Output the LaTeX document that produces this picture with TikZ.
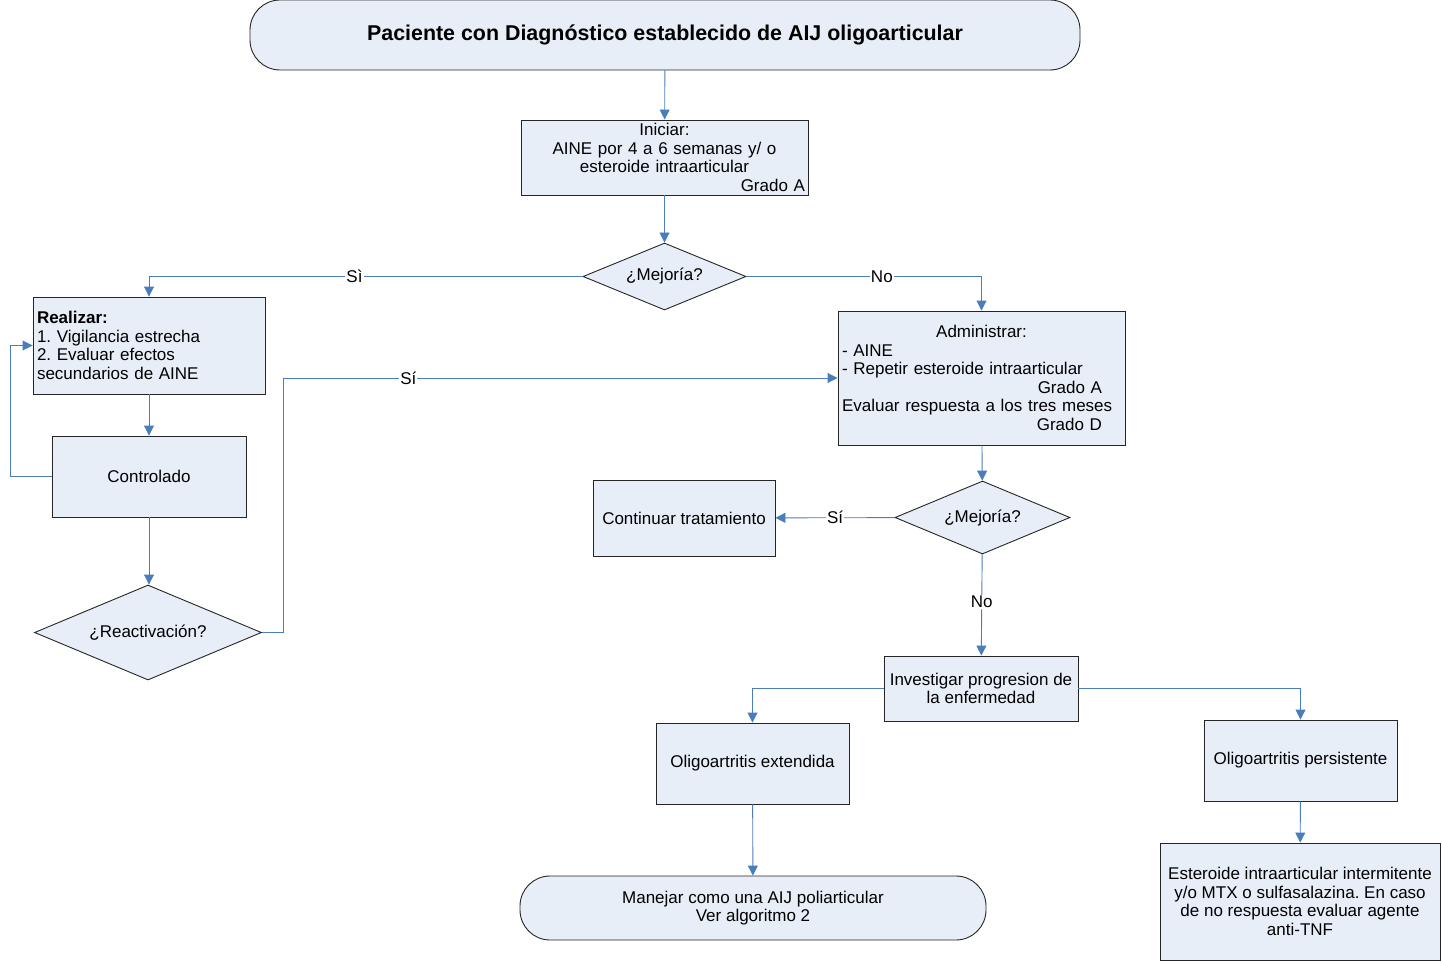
\documentclass[tikz,border=0pt]{standalone}
\usepackage{fontspec}
\setmainfont{Liberation Sans}
\usepackage{tikz}
\usetikzlibrary{shapes.geometric, arrows.meta, positioning}
\frenchspacing

\definecolor{boxfill}{RGB}{232,238,247}
\definecolor{flowblue}{RGB}{74,126,187}

\tikzset{
  box/.style={draw=black!85, fill=boxfill, line width=0.9pt, inner sep=0pt, font=\fontsize{17}{18.6}\selectfont},
  terminal/.style={box, rounded corners=30pt},
  decision/.style={box, diamond, aspect=2.4},
  flow/.style={draw=flowblue, line width=0.9pt, -{Triangle[length=10pt,width=10pt]}},
  lbl/.style={fill=white, inner sep=1pt, font=\fontsize{17}{18.6}\selectfont},
}

\begin{document}
\begin{tikzpicture}[x=1pt, y=-1pt]
    \useasboundingbox (0,0) rectangle (1442,963);
    % Start
    \node[terminal, minimum width=830, minimum height=70, font=\bfseries\fontsize{21.4}{24}\selectfont] (start) at (665,35) {Paciente con Diagnóstico establecido de AIJ oligoarticular};
    \node[box, minimum width=287, minimum height=75, text width=281, align=center] (iniciar) at (664.5,157.5) {Iniciar:\\ AINE por 4 a 6 semanas y/ o\\ esteroide intraarticular\\ \hfill Grado A};
    \node[decision, minimum width=163, minimum height=67] (mejora) at (664.5,276.5) {¿Mejoría?};
    % Left branch
    \node[box, minimum width=232, minimum height=97, text width=224, align=left] (realizar) at (149,345.5) {\textbf{Realizar:}\\ 1. Vigilancia estrecha\\ 2. Evaluar efectos\\ secundarios de AINE};
    \node[box, minimum width=194, minimum height=81] (ctrl) at (149,476.5) {Controlado};
    \node[decision, minimum width=227, minimum height=95] (react) at (148,632.5) {¿Reactivación?};
    \coordinate (lbend) at (10,476.5);
    \coordinate (rbend) at (283,632.5);
    % Right branch
    \node[box, minimum width=287, minimum height=134, text width=279, align=left] (admin) at (981.5,378) {\hfill Administrar:\hfill\null\\ - AINE\\ - Repetir esteroide intraarticular\\ \hfill Grado A\hspace{19pt}\null\\ Evaluar respuesta a los tres meses\\ \hfill Grado D\hspace{19pt}\null};
    \node[decision, minimum width=175, minimum height=73] (mejora2) at (982.5,517.5) {¿Mejoría?};
    \node[box, minimum width=182, minimum height=76] (continuar) at (684,518) {Continuar tratamiento};
    \node[box, minimum width=194, minimum height=65, align=center] (investigar) at (981,688.5) {Investigar progresion de\\ la enfermedad};
    \node[box, minimum width=193, minimum height=81] (extendida) at (752.5,763.5) {Oligoartritis extendida};
    \node[box, minimum width=193, minimum height=81] (persistente) at (1300.5,760.5) {Oligoartritis persistente};
    \node[terminal, minimum width=466, minimum height=64, align=center] (manejar) at (753,908) {Manejar como una AIJ poliarticular\\ Ver algoritmo 2};
    \node[box, minimum width=280, minimum height=117, align=center] (esteroide) at (1300,901.5) {Esteroide intraarticular intermitente\\ y/o MTX o sulfasalazina. En caso\\ de no respuesta evaluar agente\\ anti-TNF};
    % Connectors
    \draw[flow] (start) -- (iniciar);
    \draw[flow] (iniciar) -- (mejora);
    \draw[flow] (mejora.west) -| node[lbl, pos=0.263] {Sì} (realizar.north);
    \draw[flow] (mejora.east) -| node[lbl, pos=0.288] {No} (admin.north);
    \draw[flow] (realizar) -- (ctrl);
    \draw[flow] (ctrl.west) -- (lbend) |- (realizar.west);
    \draw[flow] (ctrl.south) -- (ctrl.south |- react.north);
    \draw[flow] (react.east) -- (rbend) |- node[lbl, pos=0.613] {Sí} (admin.west);
    \draw[flow] (admin) -- (mejora2);
    \draw[flow] (mejora2) -- node[lbl] {Sí} (continuar);
    \draw[flow] (mejora2) -- node[lbl, pos=0.47] {No} (investigar);
    \draw[flow] (investigar.west) -| (extendida.north);
    \draw[flow] (investigar.east) -| (persistente.north);
    \draw[flow] (extendida) -- (manejar);
    \draw[flow] (persistente) -- (esteroide);
\end{tikzpicture}
\end{document}
